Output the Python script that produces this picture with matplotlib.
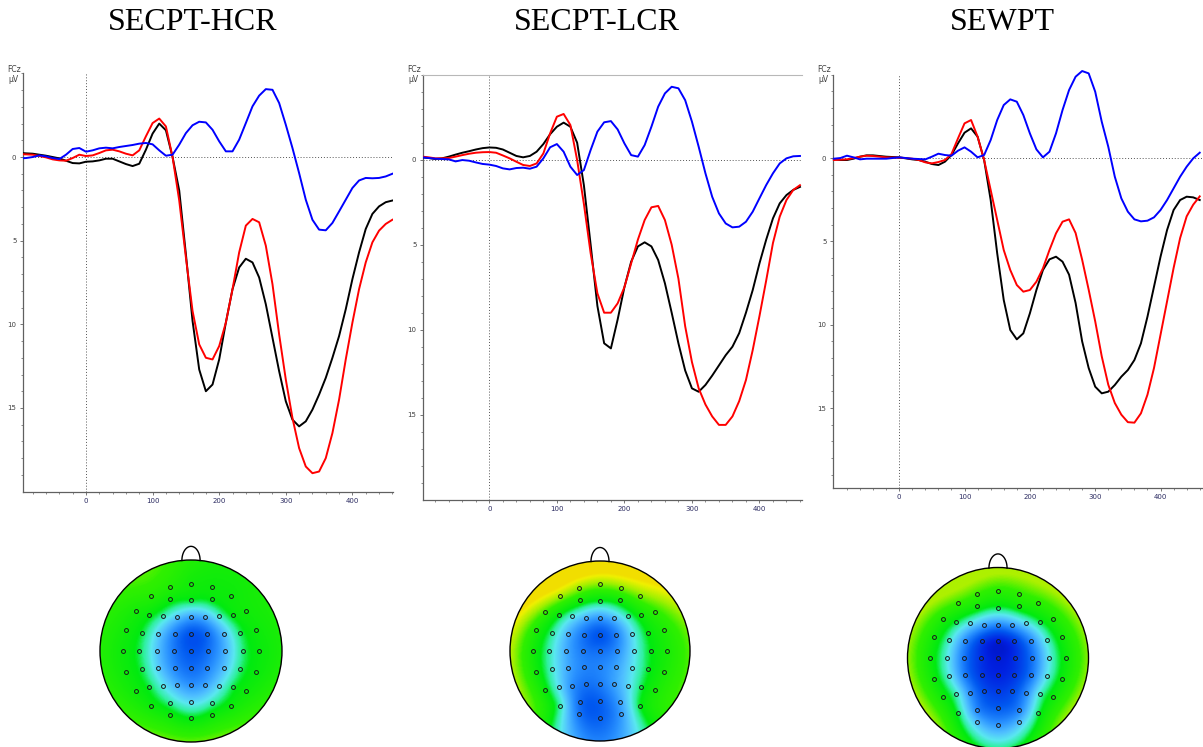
import numpy as np
import matplotlib
matplotlib.use("Agg")
import matplotlib.pyplot as plt
from matplotlib.colors import LinearSegmentedColormap
from matplotlib.patches import Circle

W, H = 1203, 747

# ---------------- data ----------------
titles = ["SECPT-HCR", "SECPT-LCR", "SEWPT"]
times = np.arange(-100, 461, 10)  # ms

# panel 1 (SECPT-HCR), values in microvolts
hcr_black = [-0.25, -0.22, -0.2, -0.14, -0.08, 0.0, 0.08, 0.22, 0.36, 0.38,
             0.28, 0.26, 0.2, 0.1, 0.1, 0.26, 0.42, 0.54, 0.4, -0.44,
             -1.4, -2.0, -1.6, 0.0, 2.0, 5.8, 9.8, 12.7, 14.0, 13.6,
             12.1, 9.9, 7.9, 6.6, 6.08, 6.3, 7.2, 8.8, 10.8, 12.8,
             14.6, 15.7, 16.1, 15.8, 15.1, 14.2, 13.2, 12.0, 10.7, 9.1,
             7.3, 5.7, 4.3, 3.4, 2.95, 2.7, 2.6]
hcr_red = [-0.18, -0.16, -0.14, -0.06, 0.02, 0.14, 0.2, 0.22, 0.06, -0.14,
           -0.06, -0.1, -0.24, -0.4, -0.44, -0.34, -0.2, -0.1, -0.4, -1.24,
           -2.03, -2.3, -1.83, 0.0, 2.6, 6.0, 9.2, 11.2, 12.0, 12.1,
           11.3, 9.9, 7.9, 5.7, 4.1, 3.7, 3.9, 5.3, 7.6, 10.6,
           13.3, 15.6, 17.4, 18.5, 18.9, 18.8, 18.0, 16.5, 14.5, 12.1,
           9.9, 7.9, 6.3, 5.1, 4.4, 4.0, 3.75]
hcr_blue = [0.08, 0.06, 0.0, -0.1, -0.04, 0.06, 0.12, -0.14, -0.48, -0.54,
            -0.32, -0.4, -0.52, -0.56, -0.52, -0.6, -0.66, -0.72, -0.8, -0.84,
            -0.76, -0.4, -0.08, -0.14, -0.74, -1.43, -1.9, -2.11, -2.07, -1.63,
            -0.94, -0.34, -0.34, -1.04, -2.03, -3.03, -3.67, -4.06, -4.02, -3.23,
            -1.93, -0.54, 0.96, 2.55, 3.75, 4.34, 4.38, 3.94, 3.25, 2.55,
            1.85, 1.4, 1.25, 1.27, 1.25, 1.16, 1.0]

# panel 2 (SECPT-LCR)
lcr_black = [-0.14, -0.1, -0.04, -0.08, -0.18, -0.3, -0.41, -0.5, -0.6, -0.68,
             -0.72, -0.7, -0.6, -0.41, -0.22, -0.14, -0.22, -0.47, -0.92, -1.5,
             -1.94, -2.18, -1.94, -1.0, 1.5, 5.0, 8.6, 10.8, 11.1, 9.4,
             7.5, 6.0, 5.1, 4.86, 5.1, 5.9, 7.27, 9.0, 10.8, 12.4,
             13.45, 13.65, 13.25, 12.7, 12.1, 11.5, 11.0, 10.2, 9.0, 7.67,
             6.1, 4.7, 3.45, 2.57, 2.08, 1.78, 1.6]
lcr_red = [-0.18, -0.14, -0.08, -0.08, -0.1, -0.18, -0.27, -0.35, -0.41, -0.44,
           -0.45, -0.41, -0.25, -0.08, 0.12, 0.31, 0.37, 0.22, -0.37, -1.55,
           -2.53, -2.69, -2.04, 0.02, 2.6, 5.5, 7.86, 9.0, 9.0, 8.45,
           7.5, 6.1, 4.7, 3.55, 2.8, 2.72, 3.55, 5.0, 7.0, 9.8,
           11.9, 13.45, 14.4, 15.1, 15.6, 15.6, 15.1, 14.2, 12.96, 11.2,
           9.2, 7.1, 4.9, 3.35, 2.37, 1.78, 1.5]
lcr_blue = [-0.14, -0.1, -0.06, -0.04, -0.02, 0.1, 0.02, 0.06, 0.16, 0.25,
            0.29, 0.37, 0.51, 0.57, 0.49, 0.47, 0.53, 0.41, -0.08, -0.73,
            -0.92, -0.47, 0.41, 0.9, 0.61, -0.57, -1.65, -2.2, -2.27, -1.78,
            -0.96, -0.27, -0.18, -0.86, -1.94, -3.12, -3.9, -4.29, -4.2, -3.5,
            -2.24, -0.76, 0.8, 2.18, 3.16, 3.75, 3.98, 3.94, 3.65, 3.06,
            2.27, 1.49, 0.8, 0.22, -0.08, -0.2, -0.22]

# panel 3 (SEWPT)
ewpt_black = [0.08, 0.12, 0.12, 0.04, -0.08, -0.16, -0.16, -0.12, -0.08, -0.06,
              -0.04, 0.02, 0.08, 0.12, 0.22, 0.36, 0.42, 0.22, -0.18, -0.88,
              -1.52, -1.78, -1.28, 0.12, 2.52, 5.72, 8.52, 10.32, 10.88, 10.52,
              9.32, 7.92, 6.72, 6.08, 5.92, 6.22, 7.0, 8.7, 11.0, 12.6,
              13.72, 14.12, 14.02, 13.62, 13.12, 12.72, 12.12, 11.12, 9.52, 7.72,
              5.92, 4.32, 3.12, 2.52, 2.32, 2.36, 2.52]
ewpt_red = [0.12, 0.1, 0.08, 0.0, -0.08, -0.14, -0.12, -0.08, -0.04, -0.03,
            -0.02, 0.0, 0.04, 0.12, 0.26, 0.32, 0.24, 0.12, -0.24, -1.18,
            -2.08, -2.28, -1.28, 0.12, 1.92, 3.72, 5.52, 6.72, 7.62, 8.02,
            7.92, 7.42, 6.62, 5.52, 4.52, 3.82, 3.68, 4.5, 6.1, 7.9,
            9.8, 11.9, 13.6, 14.7, 15.4, 15.85, 15.88, 15.32, 14.2, 12.6,
            10.6, 8.6, 6.6, 4.8, 3.5, 2.8, 2.3]
ewpt_blue = [0.04, 0.0, -0.14, -0.04, 0.08, 0.04, 0.04, 0.04, 0.04, 0.0,
             -0.04, 0.0, 0.04, 0.06, 0.08, -0.08, -0.26, -0.18, -0.14, -0.44,
             -0.64, -0.38, -0.04, -0.18, -1.08, -2.28, -3.18, -3.52, -3.38, -2.58,
             -1.48, -0.52, -0.04, -0.38, -1.48, -2.88, -4.08, -4.88, -5.22, -5.08,
             -3.98, -2.18, -0.68, 1.12, 2.42, 3.22, 3.68, 3.8, 3.76, 3.56,
             3.12, 2.52, 1.82, 1.12, 0.52, 0.02, -0.32]

waves = [(hcr_black, hcr_red, hcr_blue),
         (lcr_black, lcr_red, lcr_blue),
         (ewpt_black, ewpt_red, ewpt_blue)]

# electrode positions (head radius = 1), 61 channels, front is +y
elec_x = [-0.233, 0.0, 0.233,
          -0.44, -0.227, 0.0, 0.227, 0.44,
          -0.606, -0.461, -0.313, -0.154, 0.0, 0.154, 0.313, 0.461, 0.606,
          -0.711, -0.537, -0.361, -0.176, 0.0, 0.176, 0.361, 0.537, 0.711,
          -0.749, -0.566, -0.375, -0.191, 0.0, 0.191, 0.375, 0.566, 0.749,
          -0.711, -0.537, -0.361, -0.176, 0.0, 0.176, 0.361, 0.537, 0.711,
          -0.606, -0.461, -0.313, -0.154, 0.0, 0.154, 0.313, 0.461, 0.606,
          -0.44, -0.227, 0.0, 0.227, 0.44,
          -0.233, 0.0, 0.233]
elec_y = [0.703, 0.74, 0.703,
          0.606, 0.571, 0.557, 0.571, 0.606,
          0.436, 0.399, 0.385, 0.37, 0.37, 0.37, 0.385, 0.399, 0.436,
          0.231, 0.201, 0.19, 0.183, 0.183, 0.183, 0.19, 0.201, 0.231,
          0.0, 0.0, 0.0, 0.0, 0.0, 0.0, 0.0, 0.0, 0.0,
          -0.231, -0.201, -0.19, -0.183, -0.183, -0.183, -0.19, -0.201, -0.231,
          -0.436, -0.399, -0.385, -0.37, -0.37, -0.37, -0.385, -0.399, -0.436,
          -0.606, -0.571, -0.557, -0.571, -0.606,
          -0.703, -0.74, -0.703]

# map amplitudes per electrode (same order as positions)
map_hcr = [1.6, 1.2, 1.1,
           1.7, 1.1, 0.9, 1.0, 1.1,
           1.3, 1.0, 0.3, -0.8, -1.6, -1.2, 0.2, 1.0, 1.2,
           1.2, 0.7, -0.7, -2.4, -3.4, -2.8, -1.0, 0.6, 1.1,
           1.1, 0.6, -0.9, -2.4, -3.2, -2.6, -1.2, 0.5, 1.0,
           1.1, 0.6, -0.8, -2.2, -2.8, -2.2, -1.0, 0.5, 1.0,
           1.1, 0.7, -0.3, -1.4, -2.0, -1.6, -0.4, 0.7, 1.1,
           1.1, 0.3, -0.6, 0.2, 1.1,
           1.1, 0.8, 1.1]
map_lcr = [2.5, 2.4, 2.4,
           2.6, 1.5, 0.8, 1.3, 2.3,
           2.0, 0.9, -0.2, -1.2, -1.8, -1.0, 0.2, 1.2, 1.8,
           1.5, 0.4, -1.2, -2.6, -3.4, -2.4, -0.4, 0.9, 1.5,
           1.3, 0.2, -1.4, -2.4, -2.6, -2.0, -0.4, 0.8, 1.4,
           1.2, 0.0, -1.4, -2.2, -2.2, -1.6, -0.4, 0.7, 1.4,
           1.0, -0.4, -2.0, -2.6, -2.4, -1.6, -0.6, 0.6, 1.3,
           0.3, -2.8, -3.0, -1.6, 0.8,
           -2.6, -3.0, -1.8]
map_ewpt = [1.9, 1.7, 1.8,
            1.9, 1.2, 0.6, 1.2, 1.7,
            1.4, 0.6, -0.4, -1.6, -2.2, -1.6, -0.4, 0.6, 1.4,
            1.2, 0.0, -2.2, -4.0, -4.8, -4.0, -2.2, 0.0, 1.2,
            1.1, -0.2, -2.6, -4.0, -4.6, -4.0, -2.6, -0.2, 1.1,
            1.1, -0.2, -2.6, -4.0, -4.4, -4.0, -2.6, -0.2, 1.1,
            1.1, 0.2, -2.0, -3.4, -3.8, -3.4, -2.0, 0.2, 1.1,
            0.6, -2.4, -3.0, -2.4, 0.6,
            -1.0, -1.8, -1.0]
maps = [map_hcr, map_lcr, map_ewpt]

# ---------------- layout (pixels) ----------------
erp_boxes = [(22.7, 73.4, 392.7, 491.6), (422.7, 74.7, 802, 499.7), (832.7, 74.7, 1203, 488)]
erp_xlims = [(-95, 460.5), (-98.7, 463), (-101.8, 465)]
erp_ylims = [(20, -5), (20, -5), (19.8, -5)]
title_x = [193, 597, 1002]
head_centers = [(191, 651, 91), (600, 651, 90), (998, 658, 90.5)]

# colour scale of the maps, -6 .. +6 microvolts
cmap = LinearSegmentedColormap.from_list("bva", [
    (0.00, "#000090"), (0.125, "#0020e0"), (0.233, "#0058f0"), (0.333, "#2890ff"),
    (0.417, "#50c0ff"), (0.475, "#5ae8f0"), (0.525, "#30f0a0"), (0.567, "#00ea10"),
    (0.667, "#30f000"), (0.717, "#a0f000"), (0.767, "#f0f000"), (1.0, "#ff0000")])


def px_axes(fig, l, t, r, b):
    return fig.add_axes([l / W, 1 - b / H, (r - l) / W, (b - t) / H])


def tps(xe, ye, ve, xg, yg, lam=0.01):
    xe, ye, ve = np.asarray(xe), np.asarray(ye), np.asarray(ve)
    n = len(xe)
    d = np.hypot(xe[:, None] - xe[None, :], ye[:, None] - ye[None, :])
    K = np.where(d > 0, d ** 2 * np.log(d + 1e-12), 0.0) + lam * np.eye(n)
    P = np.column_stack([np.ones(n), xe, ye])
    A = np.zeros((n + 3, n + 3))
    A[:n, :n] = K
    A[:n, n:] = P
    A[n:, :n] = P.T
    sol = np.linalg.solve(A, np.concatenate([ve, np.zeros(3)]))
    w, a = sol[:n], sol[n:]
    dg = np.hypot(xg.ravel()[:, None] - xe[None, :], yg.ravel()[:, None] - ye[None, :])
    Kg = np.where(dg > 0, dg ** 2 * np.log(dg + 1e-12), 0.0)
    z = Kg @ w + a[0] + a[1] * xg.ravel() + a[2] * yg.ravel()
    return np.clip(z.reshape(xg.shape), ve.min(), ve.max() + 0.8)


fig = plt.figure(figsize=(W / 100, H / 100), dpi=100)

for i in range(3):
    l, t, r, b = erp_boxes[i]
    ax = px_axes(fig, l, t, r, b)
    black, red, blue = waves[i]
    clip = (i != 2)
    ax.plot(times, black, color="black", lw=1.4, clip_on=clip, zorder=3)
    ax.plot(times, red, color="#ff0000", lw=1.4, clip_on=clip, zorder=4)
    ax.plot(times, blue, color="#0000ff", lw=1.4, clip_on=clip, zorder=5)
    ax.set_xlim(*erp_xlims[i])
    ax.set_ylim(*erp_ylims[i])
    ax.axhline(0, color="#555555", lw=0.7, ls=(0, (1, 2)), zorder=1)
    ax.axvline(0, color="#555555", lw=0.7, ls=(0, (1, 2)), zorder=1)
    for s in ["top", "right"]:
        ax.spines[s].set_visible(False)
    if i == 1:
        ax.spines["top"].set_visible(True)
        ax.spines["top"].set_color("#b8b8b8")
        ax.spines["top"].set_linewidth(0.8)
    for s in ["left", "bottom"]:
        ax.spines[s].set_color("#606060")
        ax.spines[s].set_linewidth(0.9)
    ax.set_yticks([0, 5, 10, 15])
    ax.set_yticks(np.arange(-5, 20, 1), minor=True)
    ax.set_xticks([0, 100, 200, 300, 400])
    ax.set_xticks(np.arange(-80, 461, 20), minor=True)
    ax.tick_params(axis="both", which="major", length=2.5, width=0.6, color="#606060",
                   labelsize=5, pad=2)
    ax.tick_params(axis="both", which="minor", length=1.5, width=0.5, color="#606060")
    ax.tick_params(axis="x", labelcolor="#2a2a60")
    ax.tick_params(axis="y", labelcolor="#404040")
    fig.text((l - 15) / W, 1 - 69 / H, "FCz", fontsize=5.5, color="#404040", va="center")
    fig.text((l - 14) / W, 1 - 79 / H, "µV", fontsize=5.5, color="#404040", va="center")
    fig.text(title_x[i] / W, 1 - 22.5 / H, titles[i], fontsize=23, family="Liberation Serif",
             ha="center", va="center", color="black")

    # topographic map
    cx, cy, rad = head_centers[i]
    tax = px_axes(fig, cx - 1.05 * rad, cy - 1.2 * rad, cx + 1.05 * rad, cy + 1.05 * rad)
    tax.set_xlim(-1.05, 1.05)
    tax.set_ylim(-1.05, 1.2)
    tax.set_aspect("equal")
    tax.axis("off")
    g = np.linspace(-1, 1, 240)
    xg, yg = np.meshgrid(g, g)
    zg = tps(elec_x, elec_y, maps[i], xg, yg)
    im = tax.imshow(zg, extent=(-1, 1, -1, 1), origin="lower", cmap=cmap, vmin=-6, vmax=6,
                    interpolation="bilinear")
    head = Circle((0, 0), 1.0, transform=tax.transData, facecolor="none")
    im.set_clip_path(head)
    tax.add_patch(Circle((0, 0), 1.0, facecolor="none", edgecolor="black", lw=1.0))
    th = np.linspace(0, np.pi, 60)
    tax.plot(0.1 * np.cos(th), 0.995 + 0.155 * np.sin(th), color="black", lw=1.0)
    tax.plot(elec_x, elec_y, "o", ms=2.8, mfc="none", mec="#1a1a1a", mew=0.7)

fig.savefig("out.png", dpi=100)
